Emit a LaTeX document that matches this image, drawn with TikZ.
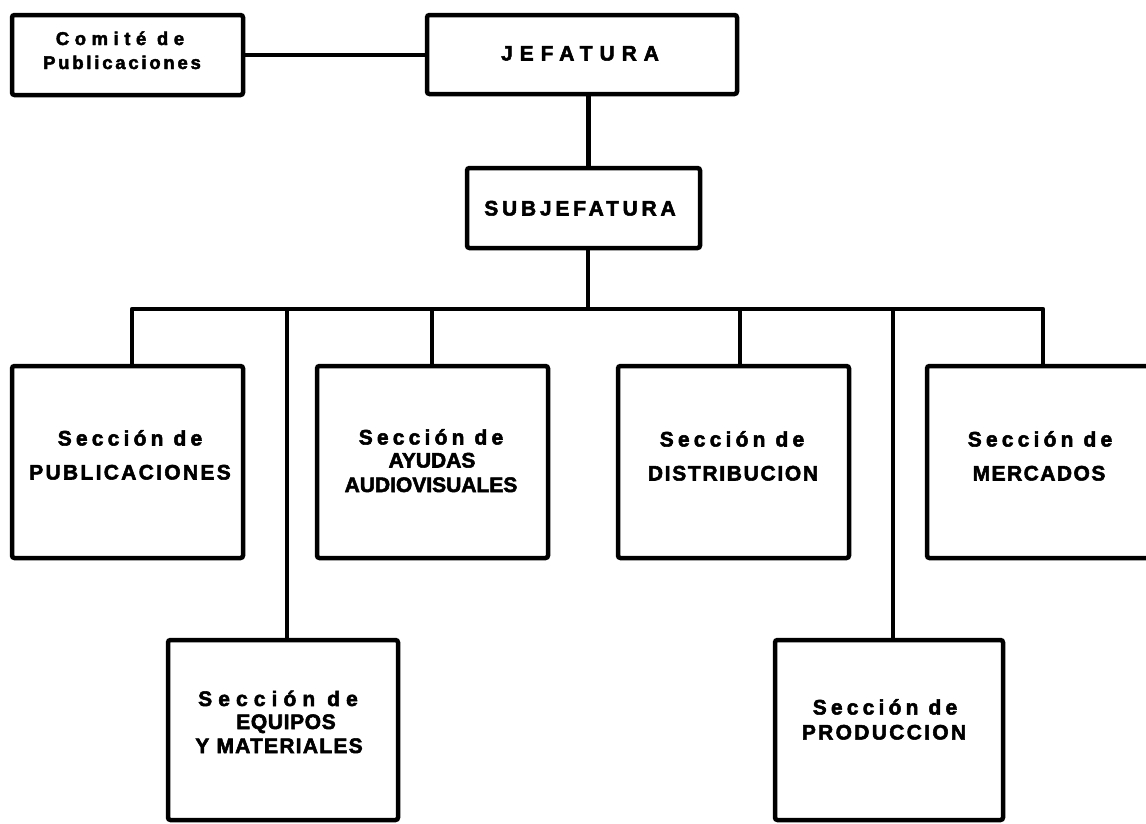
\documentclass[tikz,border=0pt]{standalone}
\usepackage{fontspec}
\setmainfont{Liberation Sans}[BoldFont={Liberation Sans Bold}, BoldFeatures={FakeBold=2.5}]
\newcommand\LS[2]{{\addfontfeature{LetterSpace=#1}#2}}
\begin{document}
\begin{tikzpicture}[x=1pt,y=-1pt,
  box/.style={draw, line width=4.5pt, rounded corners=2.5pt, inner sep=0pt},
  conn/.style={line width=4.2pt, line join=round},
  lbl/.style={font=\fontsize{21}{22}\selectfont\bfseries, inner sep=0pt, anchor=base},
  lblbig/.style={font=\fontsize{21}{22}\selectfont\bfseries, inner sep=0pt, anchor=base},
  lblsmall/.style={font=\fontsize{18.5}{20}\selectfont\bfseries, inner sep=0pt, anchor=base}]
\useasboundingbox (0,0) rectangle (1146,823);
\clip (0,0) rectangle (1146,823);
% boxes
\node[box, minimum width=231pt, minimum height=80pt] (com) at (127.5,55) {};
\node[box, minimum width=310pt, minimum height=79pt] (jef) at (582,54.5) {};
\node[box, minimum width=233pt, minimum height=80pt] (sub) at (583.5,208) {};
\node[box, minimum width=231pt, minimum height=192pt] (pub) at (127.5,462) {};
\node[box, minimum width=231pt, minimum height=192pt] (ayu) at (432.5,462) {};
\node[box, minimum width=231pt, minimum height=192pt] (dis) at (733.5,462) {};
\node[box, minimum width=233pt, minimum height=192pt] (mer) at (1043.5,462) {};
\node[box, minimum width=230pt, minimum height=180pt] (equ) at (283,730) {};
\node[box, minimum width=228pt, minimum height=180pt] (pro) at (889,730) {};
% labels
\node[lblsmall] (comA) at (120,45) {\LS{30}{Comité de}};
\node[lblsmall] (comB) at (122,69) {\LS{15}{Publicaciones}};
\node[lblbig] (jefA) at (580,60.5) {\LS{33}{JEFATURA}};
\node[lblbig] (subA) at (580,215.5) {\LS{18}{SUBJEFATURA}};
\node[lbl] (pubA) at (130,445.5) {\LS{20}{Sección de}};
\node[lbl] (pubB) at (130,479.5) {\LS{11}{PUBLICACIONES}};
\node[lbl] (ayuA) at (431,444.5) {\LS{20}{Sección de}};
\node[lbl] (ayuB) at (432,467.5) {\LS{0}{AYUDAS}};
\node[lbl] (ayuC) at (431,492) {\LS{0}{AUDIOVISUALES}};
\node[lbl] (disA) at (732,446.5) {\LS{20}{Sección de}};
\node[lbl] (disB) at (733,480.5) {\LS{8}{DISTRIBUCION}};
\node[lbl] (merA) at (1040,446.5) {\LS{20}{Sección de}};
\node[lbl] (merB) at (1039,480.5) {\LS{7}{MERCADOS}};
\node[lbl] (equA) at (278,706) {\LS{29}{Sección de}};
\node[lbl] (equB) at (286,729) {\LS{3}{EQUIPOS}};
\node[lbl] (equC) at (279,753) {\LS{6}{Y MATERIALES}};
\node[lbl] (proA) at (885,714.5) {\LS{20}{Sección de}};
\node[lbl] (proB) at (884,739.5) {\LS{11}{PRODUCCION}};
% bus coordinates
\coordinate (b1) at (132,309);
\coordinate (b2) at (287,309);
\coordinate (b3) at (432,309);
\coordinate (bs) at (588,309);
\coordinate (b4) at (740,309);
\coordinate (b5) at (893,309);
\coordinate (b6) at (1043,309);
% connectors
\draw[conn] (com.east) -- (com.east -| jef.west);
\draw[conn, line width=5pt] (bs |- jef.south) -- (bs |- sub.north);
\draw[conn] (bs |- sub.south) -- (bs);
\draw[conn] (b1 |- pub.north) -- (b1) -- (b6) -- (b6 |- mer.north);
\draw[conn] (b2) -- (b2 |- equ.north);
\draw[conn] (b3) -- (b3 |- ayu.north);
\draw[conn] (b4) -- (b4 |- dis.north);
\draw[conn] (b5) -- (b5 |- pro.north);
\end{tikzpicture}
\end{document}
